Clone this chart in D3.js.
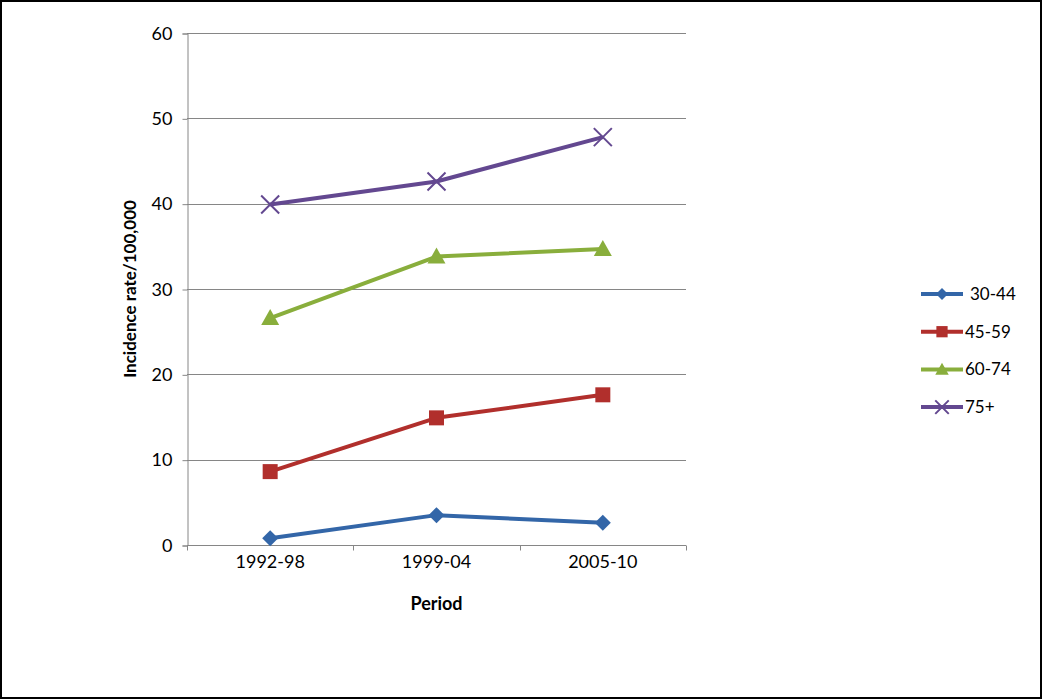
<!DOCTYPE html>
<html lang="en">
<head>
<script src="https://d3js.org/d3.v7.min.js"></script>
<style>
  body { margin: 0; background: #fff; }
  text { font-family: Lato, "Open Sans", sans-serif; fill: #000; }
</style>
</head>
<body>
<script>
// chart data
var periods = ["1992-98", "1999-04", "2005-10"];
var groups = ["30-44", "45-59", "60-74", "75+"];
var rate3044 = [0.8, 3.5, 2.6];
var rate4559 = [8.6, 14.9, 17.6];
var rate6074 = [26.6, 33.8, 34.7];
var rate75 = [39.9, 42.6, 47.8];
var yTicks = [0, 10, 20, 30, 40, 50, 60];

var colors = ["#3366A8", "#B12F2C", "#89AE3C", "#634890"];
var markers = ["diamond", "square", "triangle", "cross"];
var series = [rate3044, rate4559, rate6074, rate75].map(function (v, i) {
    return { name: groups[i], values: v, color: colors[i], marker: markers[i] };
});

var W = 1042, H = 699;
var pLeft = 187, pRight = 686, pTop = 33, pBottom = 545;

var svg = d3.select("body").append("svg")
    .attr("width", W).attr("height", H);

svg.append("rect")
    .attr("x", 1).attr("y", 1).attr("width", W - 2).attr("height", H - 2)
    .attr("fill", "#fff").attr("stroke", "#000").attr("stroke-width", 2);

var x = d3.scaleBand().domain(periods).range([pLeft, pRight]);
var y = d3.scaleLinear().domain([0, 60]).range([pBottom, pTop]);

// gridlines
svg.append("g").selectAll("line")
    .data(yTicks.slice(1))
    .enter().append("line")
    .attr("x1", pLeft).attr("x2", pRight)
    .attr("y1", function (d) { return Math.round(y(d)) + 0.5; })
    .attr("y2", function (d) { return Math.round(y(d)) + 0.5; })
    .attr("stroke", "#868686").attr("stroke-width", 1);

// y axis
var yAxis = svg.append("g")
    .attr("transform", "translate(" + (pLeft + 0.5) + ",0.5)")
    .call(d3.axisLeft(y).tickValues(yTicks).tickSize(5).tickPadding(10));
yAxis.selectAll("path, line").attr("stroke", "#868686");
yAxis.selectAll("text").style("font-size", "18px").attr("fill", "#000")
    .style("font-family", "Lato, 'Open Sans', sans-serif");

// x axis, ticks at band edges
var xAxis = svg.append("g")
    .attr("transform", "translate(0," + (pBottom + 0.5) + ")");
xAxis.append("line")
    .attr("x1", pLeft).attr("x2", pRight)
    .attr("stroke", "#868686");
xAxis.selectAll("line.tk")
    .data(periods.concat(["end"]))
    .enter().append("line").attr("class", "tk")
    .attr("x1", function (d, i) { return Math.round(pLeft + i * x.bandwidth()) + 0.5; })
    .attr("x2", function (d, i) { return Math.round(pLeft + i * x.bandwidth()) + 0.5; })
    .attr("y1", 0).attr("y2", 5)
    .attr("stroke", "#868686");
xAxis.selectAll("text")
    .data(periods)
    .enter().append("text")
    .attr("x", function (d) { return x(d) + x.bandwidth() / 2; })
    .attr("y", 10)
    .attr("dy", "0.71em")
    .attr("text-anchor", "middle")
    .style("font-size", "18px")
    .text(function (d) { return d; });

// lines
var line = d3.line()
    .x(function (d, i) { return x(periods[i]) + x.bandwidth() / 2; })
    .y(function (d) { return y(d); });

// marker shapes centred on 0,0
var shapes = {
    diamond: "M0,-8L8,0L0,8L-8,0Z",
    square: "M-7.5,-7.5H7.5V7.5H-7.5Z",
    triangle: "M0,-9L9,7L-9,7Z",
    cross: "M-9,-9L9,9M-9,9L9,-9"
};

function drawMarker(g, s, cx, cy, scale) {
    scale = scale || 1;
    var p = g.append("path")
        .attr("d", shapes[s.marker])
        .attr("transform", "translate(" + cx + "," + cy + ") scale(" + scale + ")");
    if (s.marker === "cross") {
        p.attr("stroke", s.color).attr("stroke-width", 2 / scale).attr("fill", "none");
    } else {
        p.attr("fill", s.color);
    }
}

series.forEach(function (s) {
    var g = svg.append("g");
    g.append("path")
        .datum(s.values)
        .attr("d", line)
        .attr("fill", "none")
        .attr("stroke", s.color)
        .attr("stroke-width", 4)
        .attr("stroke-linejoin", "round");
    s.values.forEach(function (v, i) {
        drawMarker(g, s, x(periods[i]) + x.bandwidth() / 2, y(v));
    });
});

// axis titles
svg.append("text")
    .attr("transform", "translate(136," + ((pTop + pBottom) / 2) + ") rotate(-90)")
    .attr("text-anchor", "middle")
    .style("font-size", "17px").style("font-weight", "bold")
    .text("Incidence rate/100,000");

svg.append("text")
    .attr("x", x(periods[1]) + x.bandwidth() / 2)
    .attr("y", 610)
    .attr("text-anchor", "middle")
    .style("font-size", "18px").style("font-weight", "bold")
    .text("Period");

// legend
var legend = svg.append("g");
series.forEach(function (s, i) {
    var ly = 294 + i * 37.7;
    legend.append("line")
        .attr("x1", 921).attr("x2", 963)
        .attr("y1", ly).attr("y2", ly)
        .attr("stroke", s.color).attr("stroke-width", 4);
    drawMarker(legend, s, 942, ly, 0.75);
    legend.append("text")
        .attr("x", i === 0 ? 970 : 965)
        .attr("y", ly)
        .attr("dy", "0.35em")
        .style("font-size", "17px")
        .text(s.name);
});
</script>
</body>
</html>
